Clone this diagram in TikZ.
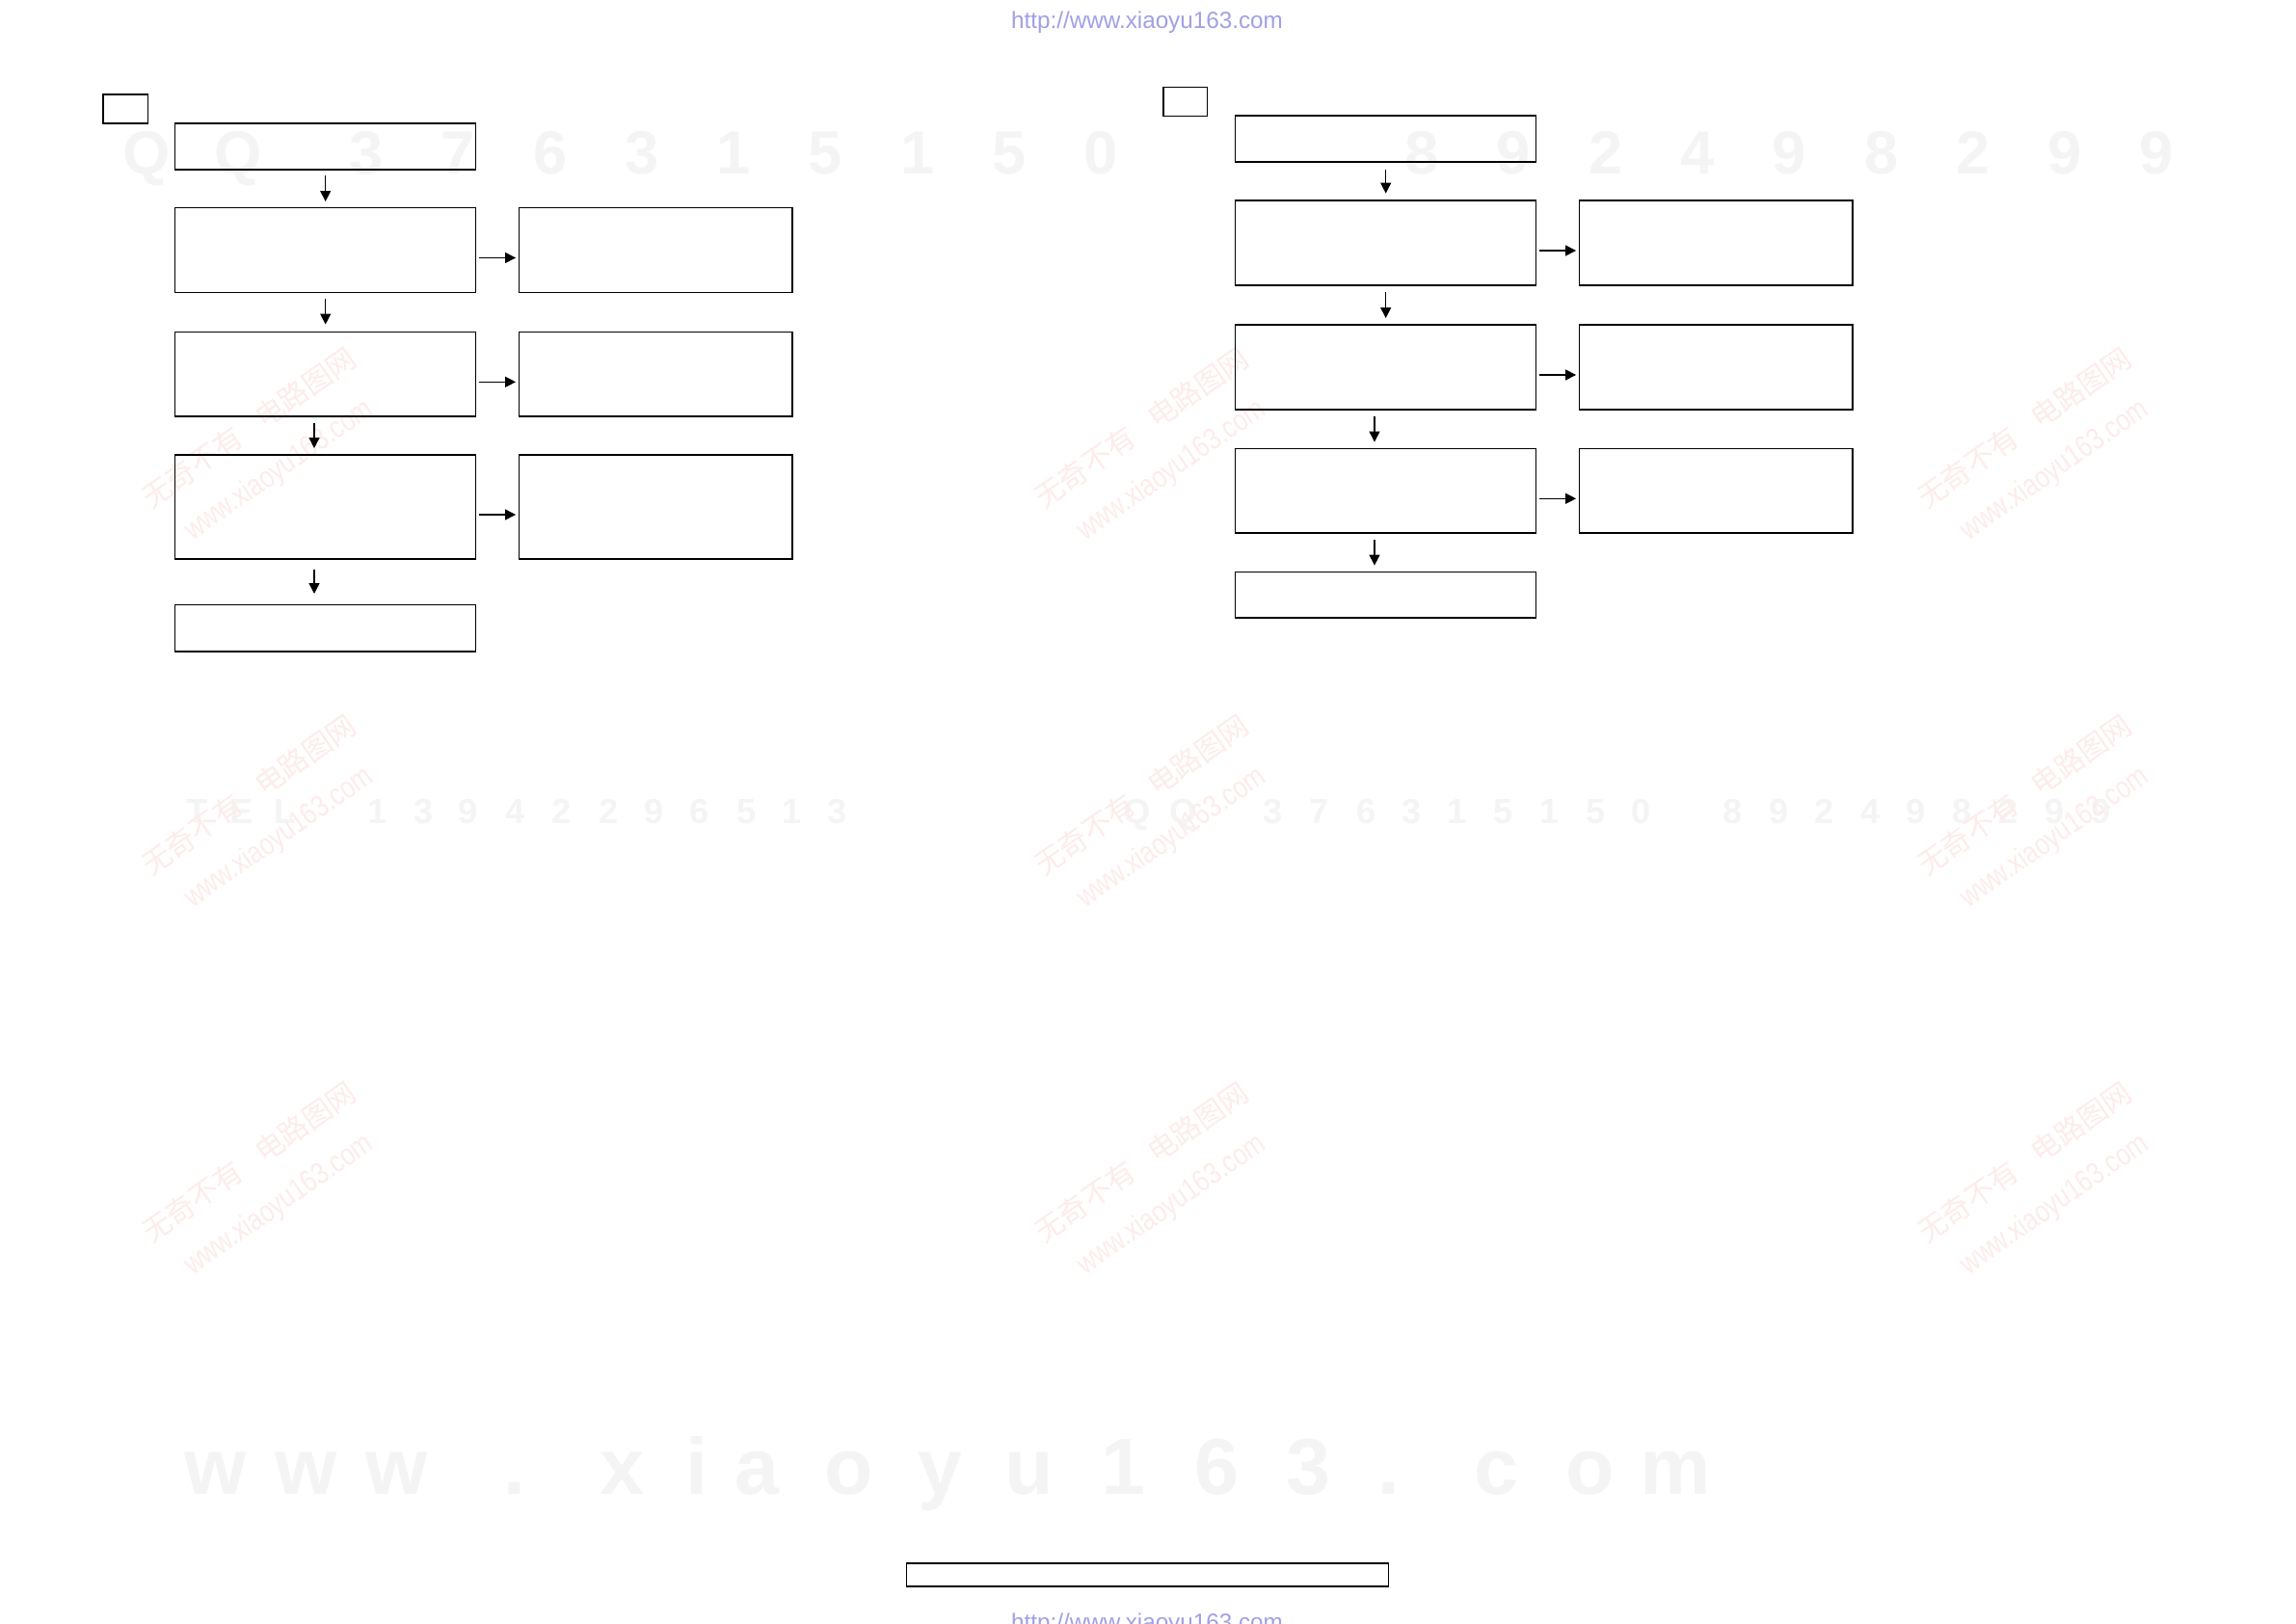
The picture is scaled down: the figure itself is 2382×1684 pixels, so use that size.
\documentclass[tikz,border=0pt]{standalone}
\usepackage{fontspec}
\setmainfont{Liberation Sans}
\newfontfamily\cjkfont{Noto Sans CJK SC}
\usetikzlibrary{arrows.meta,calc}
\definecolor{urlc}{RGB}{160,160,228}
\definecolor{wmgray}{RGB}{244,244,244}
\definecolor{wmred}{RGB}{253,236,234}
\begin{document}
\begin{tikzpicture}[x=0.1mm,y=-0.1mm,
  box/.style={draw,line width=0.42pt,inner sep=0pt,outer sep=0pt},
  arr/.style={line width=0.35pt,arrows={-Triangle[length=1.1mm,width=1.1mm]}},
  varr/.style={arr,shorten <=0.7mm,shorten >=0.7mm},
  harr/.style={arr,shorten <=0.3mm,shorten >=0.33mm},
  wmtop/.style={text=wmgray,inner sep=0pt,anchor=base,font=\fontsize{18pt}{18pt}\selectfont\bfseries},
  wmmid/.style={text=wmgray,inner sep=0pt,anchor=base,font=\fontsize{10.3pt}{11pt}\selectfont\bfseries},
  wmbot/.style={text=wmgray,inner sep=0pt,anchor=base,font=\fontsize{23.5pt}{24pt}\selectfont\bfseries},
  wmcn/.style={text=wmred,inner sep=0pt,rotate=35,font=\cjkfont\fontsize{8.5pt}{9pt}\selectfont},
  wmurl/.style={text=wmred,inner sep=0pt,rotate=35,xscale=0.8,font=\fontsize{9pt}{10pt}\selectfont},
  url/.style={text=urlc,inner sep=0pt,anchor=base,font=\fontsize{6.9pt}{8pt}\selectfont}]
\useasboundingbox (0,0) rectangle (2382,1684);
\fill[white] (0,0) rectangle (2382,1684);

% ---- faint watermarks ----
\foreach \c/\x in {Q/152,Q/247,3/380,7/475,6/571,3/666,1/761,5/856,1/952,5/1047,0/1142,8/1475,9/1570,2/1666,4/1761,9/1856,8/1952,2/2047,9/2142,9/2237}
  \node[wmtop] at (\x,180) {\c};
\foreach \c/\x in {T/205,E/251,L/296,1/392,3/440,9/486,4/535,2/583,2/632,9/679,6/726,5/775,1/822,3/869,Q/1180,Q/1228,3/1321,7/1369,6/1418,3/1465,1/1512,5/1560,1/1608,5/1656,0/1703,8/1798,9/1846,2/1893,4/1941,9/1988,8/2036,2/2084,9/2132,9/2180}
  \node[wmmid] at (\x,854) {\c};
\foreach \c/\x in {w/224,w/318,w/412,./534,x/645,i/723,a/785,o/881,y/975,u/1068,1/1165,6/1262,3/1357,./1441,c/1552,o/1650,m/1738}
  \node[wmbot] at (\x,1550) {\c};
\foreach \cx in {274,1200,2116}
  \foreach \cy in {466,847,1228} {
    \node[wmcn] at ($(\cx,\cy)+(-15.8,-22.5)$) {无奇不有\hspace{0.8em}电路图网};
    \node[wmurl] at ($(\cx,\cy)+(15.8,22.5)$) {www.xiaoyu163.com};
  }

% ---- header / footer ----
\node[url] (urltop) at (1190,29) {http://www.xiaoyu163.com};
\node[url] (urlbot) at (1190,1691) {http://www.xiaoyu163.com};
\node[box,minimum width=50mm,minimum height=2.4mm] (foot) at (1190.5,1634) {};

% ---- left chart ----
\node[box,minimum width=4.65mm,minimum height=3mm] (S1) at (130.3,113) {};
\node[box,minimum width=31.2mm,minimum height=4.8mm] (A1) at (337.7,152) {};
\node[box,minimum width=31.2mm,minimum height=8.8mm] (B1) at (337.7,259.5) {};
\node[box,minimum width=31.2mm,minimum height=8.75mm] (C1) at (337.7,388.3) {};
\node[box,minimum width=31.2mm,minimum height=10.8mm] (D1) at (337.7,526) {};
\node[box,minimum width=31.2mm,minimum height=4.84mm] (E1) at (337.7,651.8) {};
\node[box,minimum width=28.37mm,minimum height=8.8mm] (RB1) at (680.2,259.5) {};
\node[box,minimum width=28.37mm,minimum height=8.75mm] (RC1) at (680.2,388.3) {};
\node[box,minimum width=28.37mm,minimum height=10.8mm] (RD1) at (680.2,526) {};
\draw[varr,shorten <=0.6mm,shorten >=0.65mm] (A1.south) -- (B1.north);
\draw[varr,shorten <=0.64mm,shorten >=0.8mm] (B1.south) -- (C1.north);
\draw[varr] ($(C1.south)+(-11.7,0)$) -- ($(D1.north)+(-11.7,0)$);
\draw[varr,shorten <=1.06mm,shorten >=1.16mm] ($(D1.south)+(-11.7,0)$) -- ($(E1.north)+(-11.7,0)$);
\draw[harr] ($(B1.east)+(0,8)$) -- ($(RB1.west)+(0,8)$);
\draw[harr] ($(C1.east)+(0,8)$) -- ($(RC1.west)+(0,8)$);
\draw[harr] ($(D1.east)+(0,8)$) -- ($(RD1.west)+(0,8)$);

% ---- right chart ----
\node[box,minimum width=4.55mm,minimum height=3mm] (S2) at (1229.8,105.4) {};
\node[box,minimum width=31.2mm,minimum height=4.8mm] (A2) at (1437.7,144) {};
\node[box,minimum width=31.2mm,minimum height=8.8mm] (B2) at (1437.7,252) {};
\node[box,minimum width=31.2mm,minimum height=8.8mm] (C2) at (1437.7,381) {};
\node[box,minimum width=31.2mm,minimum height=8.75mm] (D2) at (1437.7,509.3) {};
\node[box,minimum width=31.2mm,minimum height=4.74mm] (E2) at (1437.7,617.3) {};
\node[box,minimum width=28.37mm,minimum height=8.8mm] (RB2) at (1780.2,252) {};
\node[box,minimum width=28.37mm,minimum height=8.8mm] (RC2) at (1780.2,381) {};
\node[box,minimum width=28.37mm,minimum height=8.75mm] (RD2) at (1780.2,509.3) {};
\draw[varr,shorten <=0.75mm,shorten >=0.74mm] (A2.south) -- (B2.north);
\draw[varr] (B2.south) -- (C2.north);
\draw[varr] ($(C2.south)+(-11.7,0)$) -- ($(D2.north)+(-11.7,0)$);
\draw[varr] ($(D2.south)+(-11.7,0)$) -- ($(E2.north)+(-11.7,0)$);
\draw[harr] ($(B2.east)+(0,8)$) -- ($(RB2.west)+(0,8)$);
\draw[harr] ($(C2.east)+(0,8)$) -- ($(RC2.west)+(0,8)$);
\draw[harr] ($(D2.east)+(0,8)$) -- ($(RD2.west)+(0,8)$);
\end{tikzpicture}
\end{document}
